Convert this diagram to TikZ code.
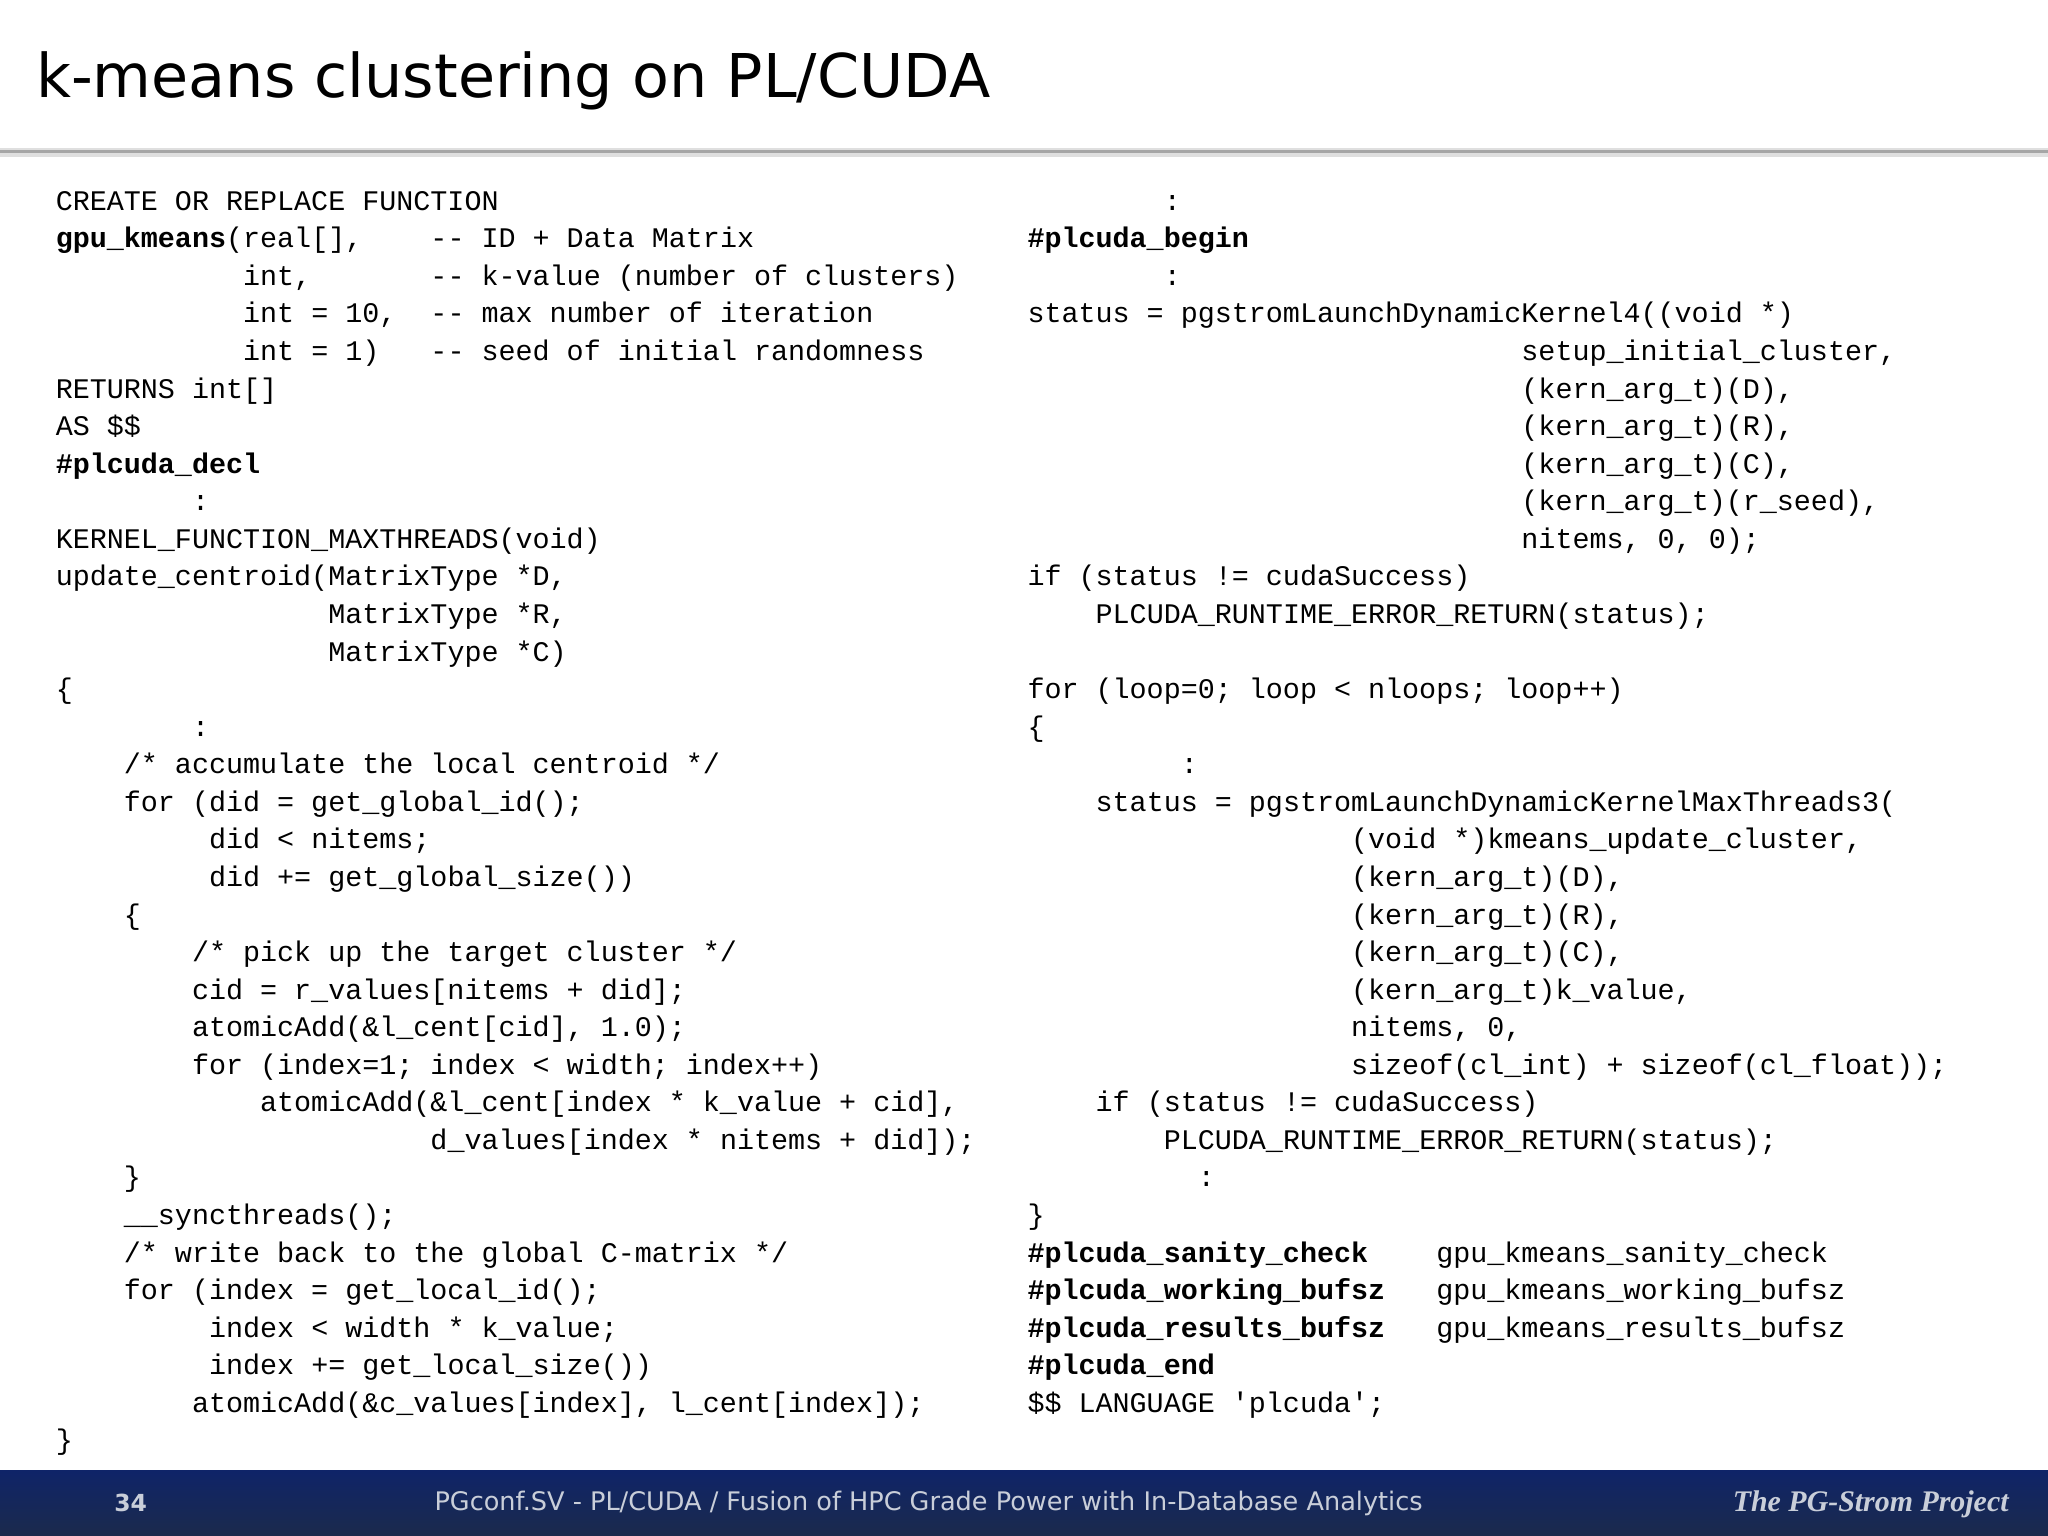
\documentclass[tikz,border=0pt]{standalone}
\usepackage{fontspec}
\setmainfont{DejaVu Sans}
\setmonofont{Liberation Mono}
\newfontfamily\serifbi{Liberation Serif}
\usetikzlibrary{positioning}
\definecolor{navytop}{HTML}{0F2468}
\definecolor{navybot}{HTML}{1B2A4C}
\definecolor{foottext}{HTML}{C9CED9}
\newcounter{lnc}
\tikzset{code/.style={anchor=base west,inner sep=0pt,font=\ttfamily\fontsize{6.18}{7}\selectfont,text=black}}
\newcommand\codeL[3]{\stepcounter{lnc}\node[code] (t\arabic{lnc}) at ({42+#1*13.04},{161+#2*28.76}) {#3};}
\newcommand\codeR[3]{\stepcounter{lnc}\node[code] (t\arabic{lnc}) at ({786+#1*13.04},{161+#2*28.76}) {#3};}
\begin{document}
\begin{tikzpicture}[x=0.01cm,y=-0.01cm]
\useasboundingbox (0,0) rectangle (1568,1176);
\fill[white] (0,0) rectangle (1568,1176);
% title rule
\fill[gray!25] (0,113) rectangle (1568,120);
\fill[gray!70] (0,114.5) rectangle (1568,117);
\node[anchor=west,inner sep=0pt] (title) at (27,62) {\resizebox{7.3cm}{!}{k-means clustering on PL/CUDA}};
% footer
\shade[top color=navytop,bottom color=navybot] (0,1126) rectangle (1568,1176);
\node[anchor=center,inner sep=0pt,text=foottext] (pnum) at (100,1151) {\resizebox{0.25cm}{!}{\bfseries 34}};
\node[anchor=west,inner sep=0pt,text=foottext] (foot) at (332,1151) {\resizebox{7.56cm}{!}{PGconf.SV - PL/CUDA / Fusion of HPC Grade Power with In-Database Analytics}};
\node[anchor=west,inner sep=0pt,text=foottext] (proj) at (1326,1152) {\resizebox{2.11cm}{!}{\serifbi\bfseries\itshape The PG-Strom Project}};
% left column
\codeL{0}{0}{CREATE OR REPLACE FUNCTION}
\codeL{0}{1}{\textbf{gpu\_kmeans}(real[],}
\codeL{22}{1}{-- ID + Data Matrix}
\codeL{11}{2}{int,}
\codeL{22}{2}{-- k-value (number of clusters)}
\codeL{11}{3}{int = 10,}
\codeL{22}{3}{-- max number of iteration}
\codeL{11}{4}{int = 1)}
\codeL{22}{4}{-- seed of initial randomness}
\codeL{0}{5}{RETURNS int[]}
\codeL{0}{6}{AS \$\$}
\codeL{0}{7}{\textbf{\#plcuda\_decl}}
\codeL{8}{8}{:}
\codeL{0}{9}{KERNEL\_FUNCTION\_MAXTHREADS(void)}
\codeL{0}{10}{update\_centroid(MatrixType *D,}
\codeL{16}{11}{MatrixType *R,}
\codeL{16}{12}{MatrixType *C)}
\codeL{0}{13}{\{}
\codeL{8}{14}{:}
\codeL{4}{15}{/* accumulate the local centroid */}
\codeL{4}{16}{for (did = get\_global\_id();}
\codeL{9}{17}{did < nitems;}
\codeL{9}{18}{did += get\_global\_size())}
\codeL{4}{19}{\{}
\codeL{8}{20}{/* pick up the target cluster */}
\codeL{8}{21}{cid = r\_values[nitems + did];}
\codeL{8}{22}{atomicAdd(\&l\_cent[cid], 1.0);}
\codeL{8}{23}{for (index=1; index < width; index++)}
\codeL{12}{24}{atomicAdd(\&l\_cent[index * k\_value + cid],}
\codeL{22}{25}{d\_values[index * nitems + did]);}
\codeL{4}{26}{\}}
\codeL{4}{27}{\_\_syncthreads();}
\codeL{4}{28}{/* write back to the global C-matrix */}
\codeL{4}{29}{for (index = get\_local\_id();}
\codeL{9}{30}{index < width * k\_value;}
\codeL{9}{31}{index += get\_local\_size())}
\codeL{8}{32}{atomicAdd(\&c\_values[index], l\_cent[index]);}
\codeL{0}{33}{\}}
% right column
\codeR{8}{0}{:}
\codeR{0}{1}{\textbf{\#plcuda\_begin}}
\codeR{8}{2}{:}
\codeR{0}{3}{status = pgstromLaunchDynamicKernel4((void *)}
\codeR{29}{4}{setup\_initial\_cluster,}
\codeR{29}{5}{(kern\_arg\_t)(D),}
\codeR{29}{6}{(kern\_arg\_t)(R),}
\codeR{29}{7}{(kern\_arg\_t)(C),}
\codeR{29}{8}{(kern\_arg\_t)(r\_seed),}
\codeR{29}{9}{nitems, 0, 0);}
\codeR{0}{10}{if (status != cudaSuccess)}
\codeR{4}{11}{PLCUDA\_RUNTIME\_ERROR\_RETURN(status);}
\codeR{0}{13}{for (loop=0; loop < nloops; loop++)}
\codeR{0}{14}{\{}
\codeR{9}{15}{:}
\codeR{4}{16}{status = pgstromLaunchDynamicKernelMaxThreads3(}
\codeR{19}{17}{(void *)kmeans\_update\_cluster,}
\codeR{19}{18}{(kern\_arg\_t)(D),}
\codeR{19}{19}{(kern\_arg\_t)(R),}
\codeR{19}{20}{(kern\_arg\_t)(C),}
\codeR{19}{21}{(kern\_arg\_t)k\_value,}
\codeR{19}{22}{nitems, 0,}
\codeR{19}{23}{sizeof(cl\_int) + sizeof(cl\_float));}
\codeR{4}{24}{if (status != cudaSuccess)}
\codeR{8}{25}{PLCUDA\_RUNTIME\_ERROR\_RETURN(status);}
\codeR{10}{26}{:}
\codeR{0}{27}{\}}
\codeR{0}{28}{\textbf{\#plcuda\_sanity\_check}}
\codeR{24}{28}{gpu\_kmeans\_sanity\_check}
\codeR{0}{29}{\textbf{\#plcuda\_working\_bufsz}}
\codeR{24}{29}{gpu\_kmeans\_working\_bufsz}
\codeR{0}{30}{\textbf{\#plcuda\_results\_bufsz}}
\codeR{24}{30}{gpu\_kmeans\_results\_bufsz}
\codeR{0}{31}{\textbf{\#plcuda\_end}}
\codeR{0}{32}{\$\$ LANGUAGE 'plcuda';}
\end{tikzpicture}
\end{document}
